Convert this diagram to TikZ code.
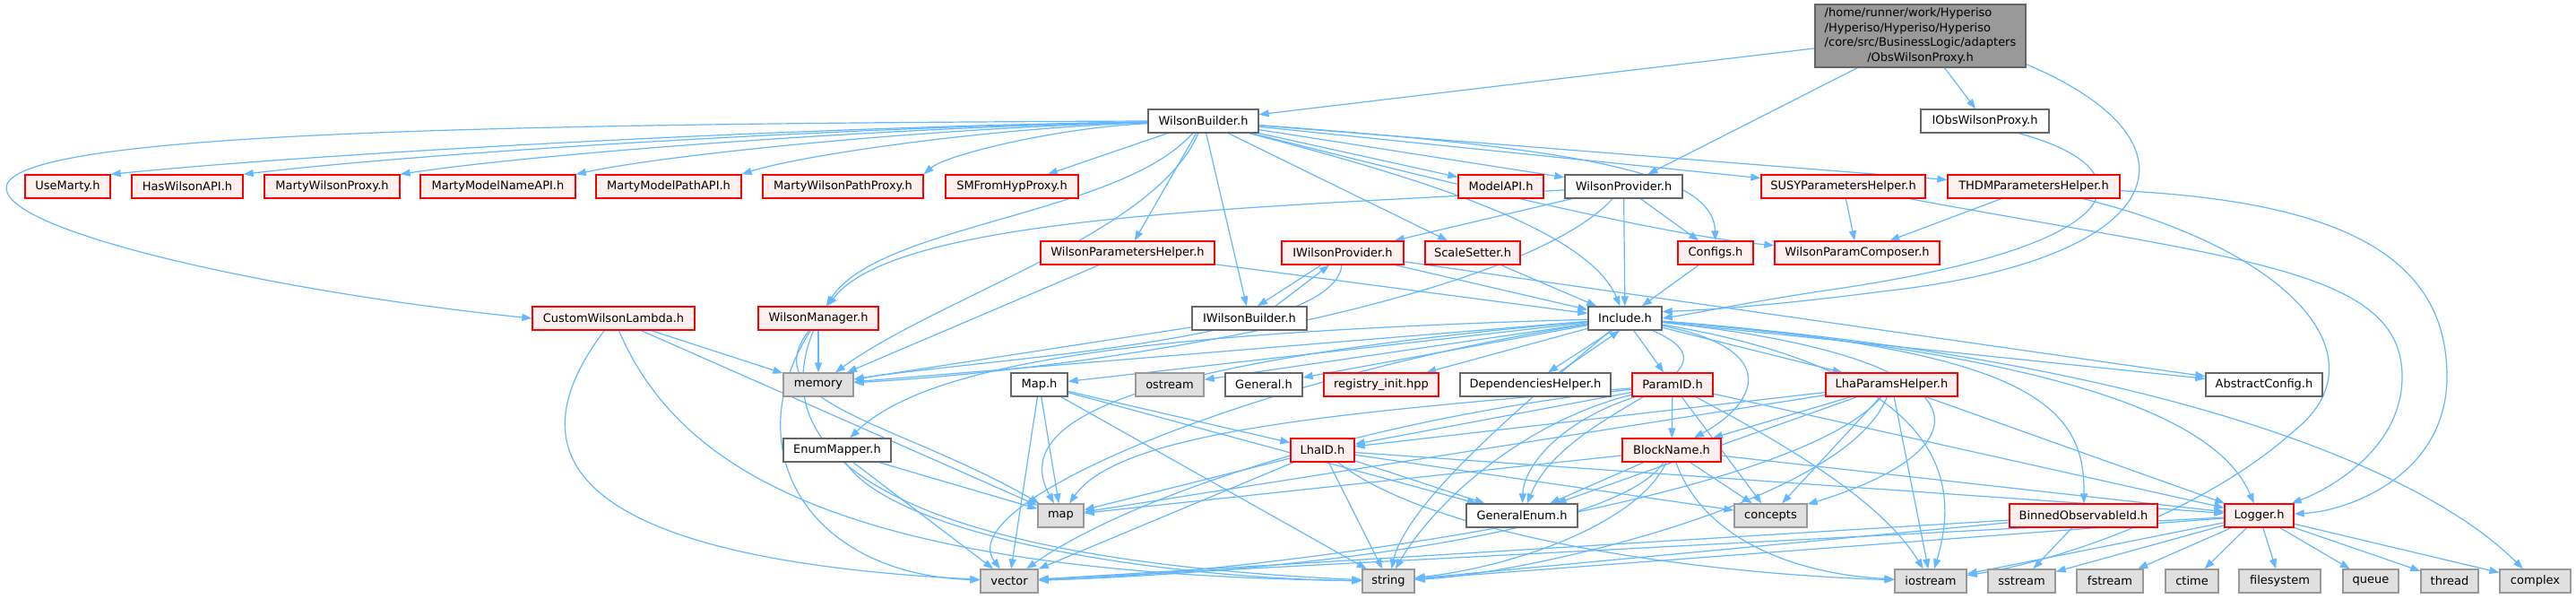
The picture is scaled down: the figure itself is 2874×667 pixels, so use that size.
\documentclass[tikz,border=0pt]{standalone}
\usepackage{fontspec}
\setmainfont{DejaVu Sans}
\usetikzlibrary{arrows.meta}
\definecolor{edgeblue}{HTML}{63B8FF}
\definecolor{redline}{HTML}{FF0000}
\definecolor{redfill}{HTML}{FFF0F0}
\definecolor{sysfill}{HTML}{E0E0E0}
\definecolor{sysline}{HTML}{999999}
\definecolor{plainline}{HTML}{666666}
\definecolor{topfill}{HTML}{999999}
\pgfdeclarelayer{bgfill}
\pgfdeclarelayer{edges}
\pgfsetlayers{bgfill,edges,main}
\tikzset{
  e/.style={draw=edgeblue, line width=1.2pt, -{Triangle[length=11pt,width=8pt]}},
  box/.style={rectangle, line width=1.3pt, minimum height=26pt, inner sep=0pt, font=\fontsize{13}{16.5}\selectfont},
  rbox/.style={box, draw=redline, fill=redfill},
  gbox/.style={box, draw=sysline, fill=sysfill},
  wbox/.style={box, draw=plainline, fill=white},
  tbox/.style={box, draw=plainline, fill=topfill},
}
\begin{document}
\begin{tikzpicture}[x=1pt,y=-1pt]
\useasboundingbox (0,0) rectangle (2874,667);
\begin{pgfonlayer}{bgfill}
\fill[white] (0,0) rectangle (2874,667);
\end{pgfonlayer}
% rank 0
\node[tbox, minimum width=235pt, minimum height=70pt] (top) at (2142.5,40) {\begin{tabular}{@{}l@{}}/home/runner/work/Hyperiso\\/Hyperiso/Hyperiso/Hyperiso\\/core/src/BusinessLogic/adapters\\\multicolumn{1}{@{}c@{}}{/ObsWilsonProxy.h}\end{tabular}};
% rank 1
\node[wbox, minimum width=123pt] (wb) at (1342.5,135) {WilsonBuilder.h};
\node[wbox, minimum width=143pt] (iobs) at (2214.5,135) {IObsWilsonProxy.h};
% rank 2
\node[rbox, minimum width=95pt] (usemarty) at (75.5,208) {UseMarty.h};
\node[rbox, minimum width=124pt] (haswil) at (209,208) {HasWilsonAPI.h};
\node[rbox, minimum width=151pt] (mwp) at (370.5,208) {MartyWilsonProxy.h};
\node[rbox, minimum width=173pt] (mmname) at (555.5,208) {MartyModelNameAPI.h};
\node[rbox, minimum width=162pt] (mmpath) at (746,208) {MartyModelPathAPI.h};
\node[rbox, minimum width=179pt] (mwpath) at (940.5,208) {MartyWilsonPathProxy.h};
\node[rbox, minimum width=148pt] (smfrom) at (1129,208) {SMFromHypProxy.h};
\node[rbox, minimum width=95pt] (modelapi) at (1674.5,208) {ModelAPI.h};
\node[wbox, minimum width=131pt] (wp) at (1811.5,208) {WilsonProvider.h};
\node[rbox, minimum width=183pt] (susy) at (2056.5,208) {SUSYParametersHelper.h};
\node[rbox, minimum width=192pt] (thdm) at (2269,208) {THDMParametersHelper.h};
% rank 3
\node[rbox, minimum width=194pt] (wph) at (1258,282) {WilsonParametersHelper.h};
\node[rbox, minimum width=136pt] (iwp) at (1498,282) {IWilsonProvider.h};
\node[rbox, minimum width=106pt] (scale) at (1643,282) {ScaleSetter.h};
\node[rbox, minimum width=84pt] (configs) at (1914,282) {Configs.h};
\node[rbox, minimum width=184pt] (wpc) at (2072,282) {WilsonParamComposer.h};
% rank 4
\node[rbox, minimum width=181pt] (cwl) at (684.5,355) {CustomWilsonLambda.h};
\node[rbox, minimum width=134pt] (wm) at (913,355) {WilsonManager.h};
\node[wbox, minimum width=128pt] (iwb) at (1394,355) {IWilsonBuilder.h};
\node[wbox, minimum width=82pt] (inc) at (1813,355) {Include.h};
% rank 5
\node[gbox, minimum width=78pt] (memory) at (913,429) {memory};
\node[wbox, minimum width=63pt] (maph) at (1159.5,429) {Map.h};
\node[gbox, minimum width=76pt] (ostream) at (1305,429) {ostream};
\node[wbox, minimum width=86pt] (general) at (1410,429) {General.h};
\node[rbox, minimum width=128pt] (registry) at (1541,429) {registry\_init.hpp};
\node[wbox, minimum width=168pt] (dep) at (1713,429) {DependenciesHelper.h};
\node[rbox, minimum width=90pt] (paramid) at (1866,429) {ParamID.h};
\node[rbox, minimum width=147pt] (lhap) at (2110.5,429) {LhaParamsHelper.h};
\node[wbox, minimum width=130pt] (abscfg) at (2526,429) {AbstractConfig.h};
% rank 6
\node[wbox, minimum width=120pt] (enum) at (934,502) {EnumMapper.h};
\node[rbox, minimum width=71pt] (lhaid) at (1475.5,502) {LhaID.h};
\node[rbox, minimum width=110pt] (block) at (1865,502) {BlockName.h};
% rank 7
\node[gbox, minimum width=51pt] (nmap) at (1183.5,575) {map};
\node[wbox, minimum width=124pt] (genenum) at (1698,575) {GeneralEnum.h};
\node[gbox, minimum width=81pt] (concepts) at (1975.5,575) {concepts};
\node[rbox, minimum width=165pt] (binned) at (2324.5,575) {BinnedObservableId.h};
\node[rbox, minimum width=77pt] (logger) at (2520.5,575) {Logger.h};
% rank 8
\node[gbox, minimum width=64pt] (nvector) at (1126,648) {vector};
\node[gbox, minimum width=58pt] (nstring) at (1549,648) {string};
\node[gbox, minimum width=80pt] (iostream) at (2154,648) {iostream};
\node[gbox, minimum width=75pt] (sstream) at (2255.5,648) {sstream};
\node[gbox, minimum width=74pt] (fstream) at (2354,648) {fstream};
\node[gbox, minimum width=59pt] (ctime) at (2445.5,648) {ctime};
\node[gbox, minimum width=91pt] (filesystem) at (2543.5,648) {filesystem};
\node[gbox, minimum width=62pt] (queue) at (2645,648) {queue};
\node[gbox, minimum width=64pt] (thread) at (2733,648) {thread};
\node[gbox, minimum width=79pt] (complex) at (2828.5,648) {complex};

\begin{pgfonlayer}{edges}
% top
\draw[e] (top) -- (wb);
\draw[e] (top) -- (wp);
\draw[e] (top) -- (iobs);
\draw[e] (top.-15) .. controls (2470,160) and (2420,290) .. (2100,325) .. controls (2000,338) and (1920,345) .. (inc.10);
\draw[e] (iobs.-20) .. controls (2390,185) and (2400,270) .. (2050,322) .. controls (1960,335) and (1900,348) .. (inc.east);
% WilsonBuilder
\draw[e] (wb) .. controls (871,142) and (344,172) .. (usemarty.north east);
\draw[e] (wb) .. controls (920,142) and (456,172) .. (haswil.north east);
\draw[e] (wb) .. controls (980,142) and (592,172) .. (mwp.north east);
\draw[e] (wb) .. controls (1046,142) and (744,172) .. (mmname.north east);
\draw[e] (wb) .. controls (1113,142) and (896,172) .. (mmpath.north east);
\draw[e] (wb) .. controls (1183,142) and (1056,172) .. (mwpath.north east);
\draw[e] (wb) -- (smfrom);
\draw[e] (wb.west) .. controls (500,138) and (35,150) .. (8,205) .. controls (-12,255) and (300,325) .. (cwl.west);
\draw[e] (wb) -- (modelapi);
\draw[e] (wb) -- (wp);
\draw[e] (wb) -- (susy);
\draw[e] (wb) -- (thdm);
\draw[e] (wb) -- (wph);
\draw[e] (wb) -- (scale);
\draw[e] (wb) .. controls (1750,165) and (1912,190) .. (configs);
\draw[e] (wb) .. controls (1600,200) and (1850,262) .. (wpc);
\draw[e] (wb) .. controls (1250,240) and (980,250) .. (wm);
\draw[e] (wb) .. controls (1290,260) and (1050,330) .. (memory);
\draw[e] (wb) -- (iwb);
\draw[e] (wb) .. controls (1550,190) and (1770,250) .. (inc);
% WilsonProvider
\draw[e] (wp) -- (iwp);
\draw[e] (wp) -- (configs);
\draw[e] (wp) -- (inc);
\draw[e] (wp) .. controls (1400,232) and (1000,240) .. (wm);
\draw[e] (wp) .. controls (1700,330) and (1250,410) .. (memory);
% SUSY / THDM
\draw[e] (susy) -- (wpc);
\draw[e] (thdm) -- (wpc);
\draw[e] (susy) .. controls (2500,290) and (2680,300) .. (2680,420) .. controls (2680,500) and (2600,545) .. (logger);
\draw[e] (thdm) .. controls (2620,225) and (2730,290) .. (2730,420) .. controls (2730,530) and (2620,570) .. (logger);
\draw[e] (thdm) .. controls (2560,280) and (2660,400) .. (2560,480) .. controls (2460,570) and (2300,625) .. (iostream);
% rank 3
\draw[e] (wph) -- (inc);
\draw[e] (wph) -- (memory);
\draw[e] ([xshift=-24pt]iwp.south) -- ([xshift=9pt]iwb.north);
\draw[e] ([xshift=29pt]iwb.north) -- ([xshift=-15pt]iwp.south);
\draw[e] (iwp) -- (inc);
\draw[e] (iwp) -- (abscfg);
\draw[e] (iwp) .. controls (1490,380) and (1100,400) .. (memory);
\draw[e] (scale) -- (inc);
\draw[e] (configs) -- (inc);
% rank 4
\draw[e] (cwl) -- (memory);
\draw[e] (cwl) -- (nmap);
\draw[e] (cwl) .. controls (590,480) and (580,620) .. (nvector);
\draw[e] (cwl) .. controls (760,530) and (950,640) .. (nstring);
\draw[e] (wm) -- (memory);
\draw[e] (wm) .. controls (840,450) and (1000,470) .. (nmap);
\draw[e] (wm) .. controls (820,500) and (900,640) .. (nvector);
\draw[e] (wm) .. controls (830,560) and (1150,630) .. (nstring);
\draw[e] (iwb) -- (memory);
% Include
\draw[e] (inc) -- (memory);
\draw[e] (inc) -- (maph);
\draw[e] (inc) -- (ostream);
\draw[e] (inc) -- (general);
\draw[e] (inc) -- (registry);
\draw[e] ([xshift=-14pt]inc.south) -- ([xshift=14pt]dep.north);
\draw[e] ([xshift=26pt]dep.north) -- ([xshift=-6pt]inc.south);
\draw[e] (inc) -- (paramid);
\draw[e] (inc) -- (lhap);
\draw[e] (inc) -- (abscfg);
\draw[e] (inc) .. controls (1300,370) and (1040,400) .. (enum);
\draw[e] (inc) .. controls (1990,390) and (1960,450) .. (block);
\draw[e] (inc) .. controls (1960,420) and (1750,450) .. (genenum);
\draw[e] (inc) .. controls (2230,400) and (2220,500) .. (concepts);
\draw[e] (inc) .. controls (2260,390) and (2327,450) .. (binned);
\draw[e] (inc) .. controls (2350,400) and (2480,480) .. (logger);
\draw[e] (inc) .. controls (2400,400) and (2700,520) .. (complex);
\draw[e] (inc) .. controls (2200,420) and (2180,560) .. (iostream);
\draw[e] (inc) .. controls (1300,400) and (1120,460) .. (nmap);
\draw[e] (inc) .. controls (1700,450) and (1570,560) .. (nstring);
\draw[e] (inc) .. controls (1400,420) and (1060,560) .. (nvector);
% Map.h
\draw[e] (maph) -- (nmap);
\draw[e] (maph) -- (nvector);
\draw[e] (maph) -- (nstring);
\draw[e] (maph) -- (lhaid);
\draw[e] (maph) -- (genenum);
% EnumMapper
\draw[e] (enum) -- (nmap);
\draw[e] (enum) -- (nvector);
\draw[e] (enum) .. controls (1000,600) and (1300,645) .. (nstring);
% ParamID
\draw[e] (paramid) -- (block);
\draw[e] (paramid) -- (lhaid);
\draw[e] (paramid) .. controls (1740,470) and (1700,520) .. (genenum);
\draw[e] (paramid) -- (concepts);
\draw[e] (paramid) .. controls (1700,470) and (1600,560) .. (nstring);
\draw[e] (paramid) .. controls (1500,460) and (1250,480) .. (nmap);
\draw[e] (paramid) .. controls (1500,470) and (1250,560) .. (nvector);
\draw[e] (paramid) -- (logger);
\draw[e] (paramid) .. controls (2000,500) and (2100,560) .. (iostream);
% LhaID
\draw[e] (lhaid) -- (nmap);
\draw[e] (lhaid) -- (nvector);
\draw[e] (lhaid) -- (nstring);
\draw[e] (lhaid) -- (genenum);
\draw[e] (lhaid) -- (concepts);
\draw[e] (lhaid) -- (logger);
\draw[e] (lhaid) .. controls (1600,600) and (1900,640) .. (iostream);
% BlockName
\draw[e] (block) -- (genenum);
\draw[e] (block) -- (nmap);
\draw[e] (block) -- (concepts);
\draw[e] (block) .. controls (1830,580) and (1700,630) .. (nstring);
\draw[e] (block) .. controls (1800,600) and (1400,640) .. (nvector);
\draw[e] (block) -- (logger);
\draw[e] (block) .. controls (1900,600) and (2000,640) .. (iostream);
% LhaParamsHelper
\draw[e] (lhap) -- (block);
\draw[e] (lhap) -- (lhaid);
\draw[e] (lhap) -- (concepts);
\draw[e] (lhap) .. controls (2060,560) and (1700,640) .. (nstring);
\draw[e] (lhap) -- (iostream);
\draw[e] (lhap) -- (logger);
\draw[e] (lhap) -- (nmap);
\draw[e] (lhap) .. controls (2000,560) and (1400,640) .. (nvector);
\draw[e] (lhap) -- (genenum);
% BinnedObservableId
\draw[e] (binned) -- (sstream);
\draw[e] (binned) -- (nvector);
\draw[e] (binned) -- (nstring);
% Logger
\draw[e] (logger) -- (iostream);
\draw[e] (logger) -- (sstream);
\draw[e] (logger) -- (fstream);
\draw[e] (logger) -- (ctime);
\draw[e] (logger) -- (filesystem);
\draw[e] (logger) -- (queue);
\draw[e] (logger) -- (thread);
\draw[e] (logger) -- (complex);
\draw[e] (logger) -- (nstring);
\draw[e] (logger) -- (nvector);
\end{pgfonlayer}
\end{tikzpicture}
\end{document}
